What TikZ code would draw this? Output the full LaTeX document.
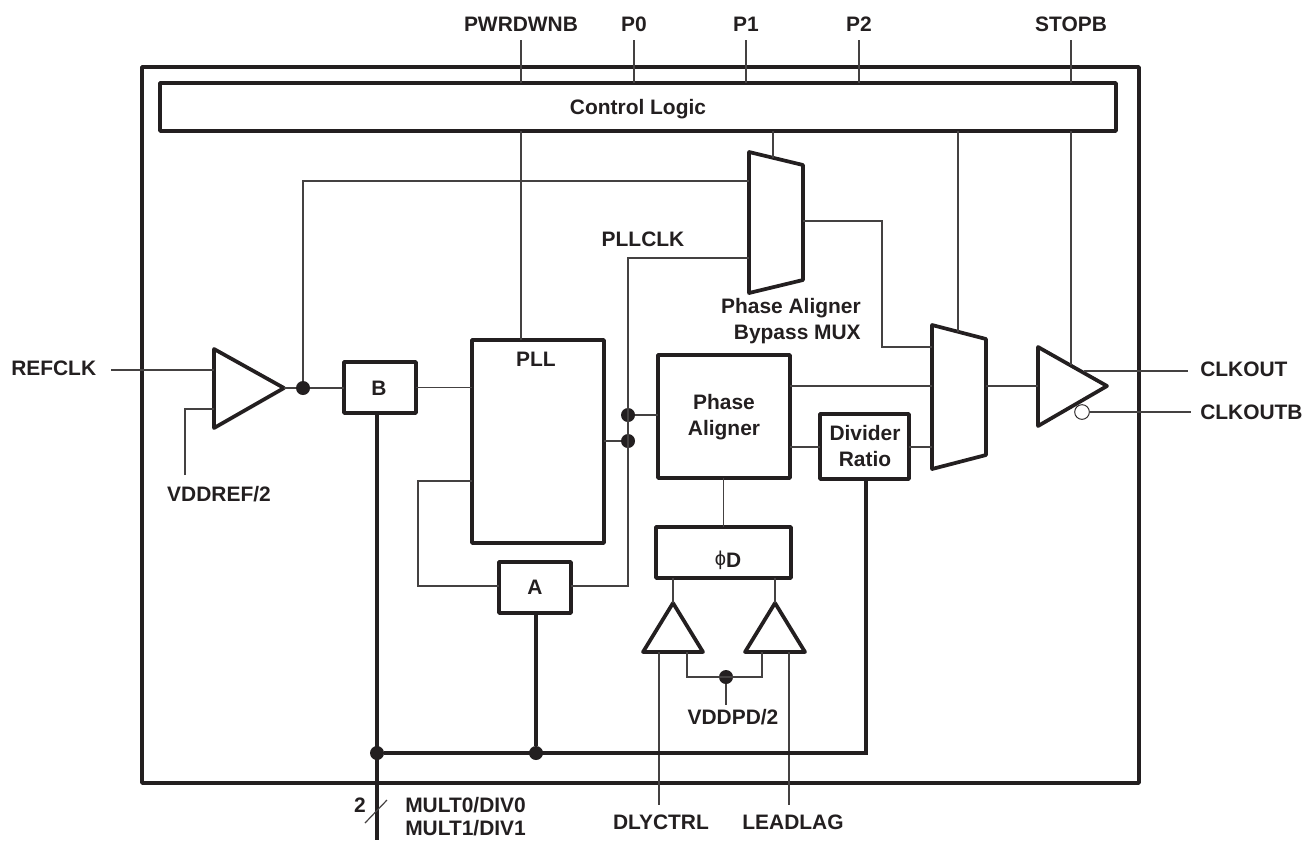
\documentclass[tikz,border=0pt]{standalone}
\usepackage{fontspec}
\setmainfont{Liberation Sans}
\definecolor{ink}{HTML}{231F20}
\tikzset{
    block/.style={draw=ink, line width=2.7pt, line join=round, outer sep=0pt, inner sep=0pt, align=center, text=ink, font=\labelfont},
    gate/.style={draw=ink, line width=2.8pt, line join=round},
    wire/.style={draw=ink!85, line width=0.9pt},
    bus/.style={draw=ink, line width=2.5pt},
    dot/.style={circle, fill=ink, inner sep=0pt, minimum size=10.5pt},
    tag/.style={inner sep=0pt, text=ink, font=\labelfont, text height=11.3pt, text depth=0pt},
    tagmulti/.style={inner sep=0pt, text=ink, font=\labelfont, align=center}
}
\newcommand{\labelfont}{\fontsize{15.7}{20}\selectfont\bfseries}
\begin{document}
\begin{tikzpicture}[x=0.75pt, y=-0.75pt]
    \useasboundingbox (0,0) rectangle (1305,840);

    % Blocks
    \node[block, minimum width=747.75pt, minimum height=537pt] (chip) at (640.5,425) {};
    \node[block, minimum width=717pt, minimum height=36pt] (ctl) at (638,107) {};
    \node[block, minimum width=99pt, minimum height=152.25pt] (pll) at (538,441.5) {};
    \node[block, minimum width=54pt, minimum height=38.25pt] (b) at (380,387.5) {};
    \node[block, minimum width=54pt, minimum height=38.25pt] (a) at (535,587.5) {};
    \node[block, minimum width=99pt, minimum height=92.25pt] (pa) at (724,416.5) {};
    \node[block, minimum width=66.75pt, minimum height=48.75pt] (div) at (864.5,446.5) {};
    \node[block, minimum width=101.25pt, minimum height=38.25pt] (phid) at (723.5,552.5) {};

    % Block texts
    \node[tag] (ctltext) at (638,107) {Control Logic};
    \node[tag] (btext) at (379,388) {B};
    \node[tag] (atext) at (535,587) {A};
    \node[tag] (plltext) at (536,359) {PLL};
    \node[tagmulti] (patext) at (724,417) {Phase\\Aligner};
    \node[tagmulti] (divtext) at (865,446) {Divider\\Ratio};
    \node[tag] (phitext) at (728,560) {\raisebox{1.5pt}{\mdseries\fontsize{15}{15}\selectfont ϕ}D};

    % Bypass MUX and output MUX
    \coordinate (m1a) at (749,152);
    \coordinate (m1b) at (803,165);
    \coordinate (m1c) at (803,280);
    \coordinate (m1d) at (749,293);
    \draw[gate] (m1a) -- (m1b) -- (m1c) -- (m1d) -- cycle;
    \coordinate (m2a) at (932,325);
    \coordinate (m2b) at (986,339);
    \coordinate (m2c) at (986,455);
    \coordinate (m2d) at (932,469);
    \draw[gate] (m2a) -- (m2b) -- (m2c) -- (m2d) -- cycle;

    % Buffers
    \coordinate (inbufa) at (214,349);
    \coordinate (inbufo) at (284,388);
    \coordinate (inbufb) at (214,428);
    \draw[gate] (inbufa) -- (inbufo) -- (inbufb) -- cycle;
    \coordinate (outbufa) at (1038,347);
    \coordinate (outbufo) at (1107,386);
    \coordinate (outbufb) at (1038,426);
    \draw[gate] (outbufa) -- (outbufo) -- (outbufb) -- cycle;
    \coordinate (dlybufo) at (673,603);
    \coordinate (dlybufa) at (643,652);
    \coordinate (dlybufb) at (703,652);
    \draw[gate] (dlybufo) -- (dlybufa) -- (dlybufb) -- cycle;
    \coordinate (leadbufo) at (775,603);
    \coordinate (leadbufa) at (745,652);
    \coordinate (leadbufb) at (805,652);
    \draw[gate] (leadbufo) -- (leadbufa) -- (leadbufb) -- cycle;

    % Dots
    \node[dot] (inDot) at (303,388) {};
    \node[dot] (paDot) at (628,415) {};
    \node[dot] (pllDot) at (628,441) {};
    \node[dot] (vddDot) at (726,677) {};
    \node[dot] (busB) at (377,753) {};
    \node[dot] (busA) at (536,753) {};

    % Labels
    \node[tag] (pwrdwnb) at (521,24) {PWRDWNB};
    \node[tag] (p0) at (634,24) {P0};
    \node[tag] (p1) at (746,24) {P1};
    \node[tag] (p2) at (859,24) {P2};
    \node[tag] (stopb) at (1071,24) {STOPB};
    \node[tag] (pllclk) at (643,239) {PLLCLK};
    \node[tagmulti, align=right, anchor=east] (muxtext) at (861,321) {Phase Aligner\\Bypass MUX};
    \node[tag, anchor=west] (refclk) at (11,368) {REFCLK};
    \node[tag] (vddref) at (219,494) {VDDREF/2};
    \node[tag, anchor=west] (clkout) at (1200,369) {CLKOUT};
    \node[tag, anchor=west] (clkoutb) at (1200,412) {CLKOUTB};
    \node[tag] (vddpd) at (733,717) {VDDPD/2};
    \node[tag] (dlyctrl) at (661,822) {DLYCTRL};
    \node[tag] (leadlag) at (793,822) {LEADLAG};
    \node[tag, anchor=west] (mult0) at (405,805) {MULT0/DIV0};
    \node[tag, anchor=west] (mult1) at (405,828) {MULT1/DIV1};
    \node[tag] (two) at (360,805) {2};

    % Free ends
    \coordinate (pwrdwnbEnd) at (521,40);
    \coordinate (p0End) at (634,40);
    \coordinate (p1End) at (746,40);
    \coordinate (p2End) at (859,40);
    \coordinate (stopbEnd) at (1071,40);
    \coordinate (stopbIn) at (1071,365);
    \coordinate (refclkEnd) at (111,370);
    \coordinate (vddrefEnd) at (185,475);
    \coordinate (clkoutEnd) at (1188,371);
    \coordinate (clkoutbEnd) at (1191,412);
    \coordinate (vddpdEnd) at (726,705);
    \coordinate (dlyEnd) at (659,805);
    \coordinate (leadEnd) at (789,805);
    \coordinate (busEnd) at (377,840);
    \coordinate (slashA) at (365,823);
    \coordinate (slashB) at (387,800);

    % Top inputs
    \draw[wire] (pwrdwnbEnd) -- (pwrdwnbEnd |- ctl.north);
    \draw[wire] (p0End) -- (p0End |- ctl.north);
    \draw[wire] (p1End) -- (p1End |- ctl.north);
    \draw[wire] (p2End) -- (p2End |- ctl.north);
    \draw[wire] (stopbEnd) -- (stopbEnd |- ctl.north);
    \draw[wire] (stopbEnd |- ctl.south) -- (stopbIn);

    % Control outputs
    \draw[wire] (pll.north -| pwrdwnbEnd) -- (pwrdwnbEnd |- ctl.south);
    \draw[wire] (ctl.south -| 773,0) -- (773,158);
    \draw[wire] (ctl.south -| 958,0) -- (958,332);

    % Clock path
    \draw[wire] (refclkEnd) -- (refclkEnd -| inbufa);
    \draw[wire] (vddrefEnd) -- (185,409) -- (214,409);
    \draw[wire] (inbufo) -- (inDot) -- (b.west |- inDot);
    \draw[wire] (inDot) -- (inDot |- 0,181) -- (749,181);
    \draw[wire] (b.east) -- (b.east -| pll.west);
    \draw[wire] (pll.east |- pllDot) -- (pllDot);
    \draw[wire] (paDot) -- (paDot -| pa.west);
    \draw[wire] (749,258) -- (628,258) -- (628,586) -- (a.east |- 0,586);
    \draw[wire] (pll.west |- 0,481) -- (418,481) -- (418,586) -- (a.west |- 0,586);

    % MUX connections
    \draw[wire] (803,221) -- (882,221) -- (882,347) -- (932,347);
    \draw[wire] (pa.east |- 0,386) -- (932,386);
    \draw[wire] (pa.east |- 0,447) -- (div.west |- 0,447);
    \draw[wire] (div.east |- 0,447) -- (932,447);
    \draw[wire] (986,386) -- (1038,386);
    \draw[wire] (1084,371) -- (clkoutEnd);
    \node[circle, draw=ink, line width=0.7pt, fill=white, inner sep=0pt, minimum size=11pt] (bubble) at (1082,412) {};
    \draw[wire] (bubble) -- (clkoutbEnd);

    % Delay control
    \draw[wire] (pa.south -| phid.north) -- (phid.north);
    \draw[wire] (phid.south -| dlybufo) -- (dlybufo);
    \draw[wire] (phid.south -| leadbufo) -- (leadbufo);
    \draw[wire] (687,652) -- (687,677) -- (762,677) -- (762,652);
    \draw[wire] (vddDot) -- (vddpdEnd);
    \draw[wire] (659,652) -- (dlyEnd);
    \draw[wire] (789,652) -- (leadEnd);

    % Thick bus
    \draw[bus] (b.south -| busB) -- (busEnd);
    \draw[bus] (a.south -| busA) -- (busA);
    \draw[bus] (busB) -- (866,753) -- (div.south -| 866,0);
    \draw[wire] (slashA) -- (slashB);
\end{tikzpicture}
\end{document}
